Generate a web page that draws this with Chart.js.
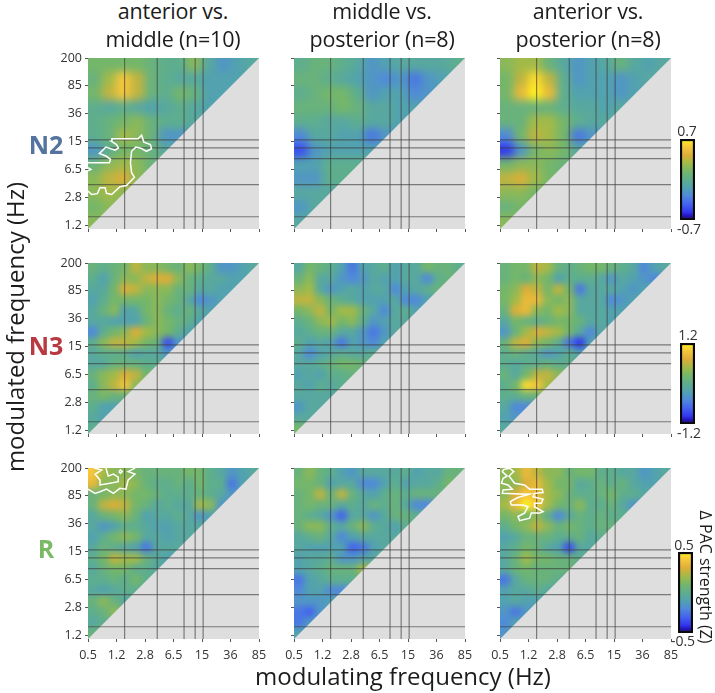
<!DOCTYPE html>
<html>
<head>
<meta charset="utf-8">
<title>PAC strength differences</title>
<script src="https://cdn.jsdelivr.net/npm/chart.js@4/dist/chart.umd.min.js"></script>
<style>
  html, body { margin: 0; padding: 0; background: #fff; }
  body { position: relative; width: 715px; height: 693px; overflow: hidden; font-family: "Open Sans", sans-serif; color: #1c1c1c; }
  canvas { position: absolute; }
  .txt { position: absolute; white-space: nowrap; transform: translate(-50%, -50%); line-height: 1; }
  .title { font-size: 21.5px; letter-spacing: -0.2px; }
  .axis { font-size: 24px; }
  .state { font-size: 25px; font-weight: 700; }
  .lim { font-size: 14px; color: #333; }
</style>
</head>
<body>

<script>
// ------------------------------------------------------------
// Data: each row runs from 200 Hz downwards, values are tenths
// of the colour limit of that row of panels
// ------------------------------------------------------------
const modulatingTicks = ['0.5', '1.2', '2.8', '6.5', '15', '36', '85'];
const modulatedTicks  = ['1.2', '2.8', '6.5', '15', '36', '85', '200'];

const colourLimits = [0.7, 1.2, 0.5];

// positions of the grey reference lines on the tick index scale
const verticalLines   = [1.284, 2.43, 3.37, 3.76, 4.04];
const horizontalLines = [3.06, 2.77, 2.39, 1.45, 0.30];

const n2AntMid = [
  [2,2,2,2,1,0,0,3,-1,-3,-2,-1],
  [1,4,8,5,1,0,-1,-1,-2,-2,-2],
  [2,5,8,5,1,0,2,1,-2,-2],
  [0,-1,0,-1,-2,-1,0,-1,-2],
  [0,1,2,3,1,0,0,-1],
  [0,1,4,3,1,-3,-3],
  [-3,0,2,2,1,-1],
  [1,3,4,3,1],
  [3,5,6,3],
  [3,4,3],
  [2,3],
  [3],
];
const n2MidPost = [
  [0,1,1,0,-1,-3,-2,-1,-1,-1,-1,0],
  [1,1,0,-1,-2,-3,-4,-3,-5,-3,-2],
  [0,1,2,2,0,-3,-2,-2,-4,-3],
  [1,1,1,2,1,-1,-1,-2,-2],
  [0,0,-1,-1,0,-1,-1,-2],
  [-4,-1,-1,-2,-2,-5,-3],
  [-7,-3,-2,-2,-2,-2],
  [-2,-2,0,0,0],
  [-3,-3,0,0],
  [-1,-1,-1],
  [-3,-1],
  [-1],
];
const n2AntPost = [
  [3,4,4,1,-1,-3,-2,-1,1,-1,-2,-1],
  [2,5,9,5,0,-3,-2,-2,-3,-2,-1],
  [2,7,10,7,0,-2,-2,-2,-3,-2],
  [1,1,1,1,0,-1,-1,-2,-1],
  [1,1,4,4,2,0,-1,-1],
  [-4,2,5,4,2,-5,-3],
  [-8,-3,2,3,2,-1],
  [2,3,3,2,1],
  [5,6,4,2],
  [3,3,2],
  [1,2],
  [3],
];
const n3AntMid = [
  [1,0,1,2,5,3,3,2,1,3,2,0,-3,-3,-2,-1],
  [0,-2,1,3,3,5,6,6,3,1,0,-1,-1,-2,-2],
  [-1,-1,2,6,5,3,3,3,1,1,-1,-1,-2,-2],
  [-2,0,2,2,2,2,3,2,1,-1,-4,-3,-2],
  [-1,1,3,-2,-1,2,3,1,0,1,-1,-2],
  [-1,-1,-2,-2,-2,1,3,2,1,0,-2],
  [-4,0,2,3,6,4,3,2,0,-2],
  [0,3,5,5,4,2,1,-7,-3],
  [-1,0,0,0,-2,-1,-1,-3],
  [-1,-1,1,1,1,0,0],
  [1,3,4,6,5,2],
  [0,3,5,8,3],
  [1,2,1,1],
  [0,-2,-2],
  [-1,-2],
  [0],
];
const n3MidPost = [
  [-1,2,1,0,-2,-5,-2,-1,0,-2,-1,-1,2,1,1,0],
  [1,3,-1,-1,-3,-4,-3,-1,-2,-2,-1,-1,-4,0,1],
  [3,4,-1,-3,-2,-1,-2,-1,-1,-4,-2,-1,0,1],
  [5,5,3,1,0,-1,-2,-2,-2,-1,-4,-4,-2],
  [2,3,5,2,4,4,1,-1,-4,-1,0,-2],
  [0,1,3,4,2,3,0,-3,-2,-1,-1],
  [-1,0,1,1,-1,-1,-3,-5,-3,-1],
  [0,-2,-1,-2,-5,-2,-3,-4,-2],
  [-1,-4,-2,-1,0,-1,-1,0],
  [-1,-1,0,1,2,2,1],
  [-2,-1,-2,0,0,1],
  [-1,-2,0,-1,0],
  [-1,-1,-1,-1],
  [-3,-1,-1],
  [-1,-1],
  [2],
];
const n3AntPost = [
  [1,2,2,5,4,1,0,1,2,2,1,0,-1,-4,-2,-1],
  [1,2,1,3,2,-2,0,0,0,-1,-3,-1,-2,-3,-4],
  [2,3,6,5,2,5,2,-5,-1,-1,-1,-2,-3,-2],
  [2,4,7,7,3,2,3,-1,-1,-1,-4,-3,-2],
  [1,6,7,3,2,4,3,-1,-1,-1,-2,-2],
  [-1,2,1,0,1,2,2,1,-1,-1,-2],
  [-3,1,4,6,5,4,2,-1,-4,-1],
  [1,5,6,3,2,0,-5,-8,-2],
  [0,1,0,-1,-3,-2,0,-2],
  [0,-1,0,0,1,0,0],
  [1,-1,2,5,5,3],
  [0,2,9,8,4],
  [0,0,1,1],
  [-1,-4,-4],
  [-2,-3],
  [-1],
];
const remAntMid = [
  [8,4,3,3,2,1,1,1,1,2,2,0,-1,-3,-2,-1],
  [7,3,3,4,3,1,0,0,1,0,2,0,0,-5,-2],
  [1,2,3,3,2,2,1,0,0,0,1,0,-1,-3],
  [1,5,6,5,2,1,-1,0,-1,-1,4,3,-3],
  [-1,1,2,3,1,-2,-1,-1,0,-1,-3,-2],
  [-1,-3,-2,0,0,-1,-2,-2,-1,-1,-1],
  [-2,0,2,3,2,-1,-1,-2,-1,-1],
  [-1,1,0,-1,-2,-5,-1,-1,-1],
  [0,2,5,4,4,1,-1,-2],
  [-1,1,2,2,0,0,-1],
  [0,0,1,0,2,0],
  [-1,-2,-1,0,0],
  [1,3,1,-1],
  [0,1,3],
  [-1,0],
  [1],
];
const remMidPost = [
  [1,3,1,0,-2,-3,-1,-1,-1,-1,0,-2,-1,-1,1,1],
  [2,2,1,-2,-1,-1,-4,-4,-2,0,-2,-1,-1,0,2],
  [1,2,5,1,5,1,-1,-2,0,1,0,1,1,1],
  [1,2,1,1,-1,0,-1,1,0,1,-1,-4,-4],
  [1,0,-1,-3,-6,-1,-1,-3,-1,1,1,0],
  [1,3,3,0,-1,1,3,0,-1,-2,0],
  [-1,0,1,-1,-4,-2,-1,-1,-1,-1],
  [-1,-2,-2,-2,-2,-6,-5,-2,-1],
  [-2,-1,-1,0,-3,-3,-2,-1],
  [-2,-1,0,1,1,1,4],
  [-5,-2,-1,0,0,0],
  [-4,-2,-2,-4,-4],
  [-3,-3,-3,-2],
  [-5,-6,-3],
  [-5,-3],
  [-2],
];
const remAntPost = [
  [3,4,7,5,3,3,1,2,2,0,0,-1,-1,-3,-2,-1],
  [3,3,6,7,4,2,2,-1,0,1,0,1,-1,-2,-2],
  [3,6,8,7,4,3,1,0,0,1,2,0,0,-1],
  [4,7,10,8,4,2,1,3,0,0,1,-1,-3],
  [2,3,2,3,0,-4,-1,1,0,1,0,0],
  [0,2,3,5,3,1,2,1,0,1,1],
  [-2,-1,1,1,1,0,0,1,-1,0],
  [-1,0,2,1,-1,-2,-7,-1,-1],
  [-1,1,4,2,2,1,1,0],
  [-1,1,2,1,1,1,1],
  [-5,-1,1,1,1,0],
  [-2,-1,-1,0,-1],
  [-2,-1,-2,-2],
  [-3,-5,-3],
  [-4,-2],
  [-3],
];

// significance outlines, on the tick index scale
const n2AntMidOutline = [[0,2.24],[.75,2.24],[.79,2.36],[.63,2.48],[.40,2.57],[.63,2.80],[.95,2.69],[1.07,2.77],[1.0,2.89],[.82,3.01],[.84,3.10],[1.76,3.10],[1.88,3.23],[1.96,2.98],[2.19,2.89],[2.23,2.74],[2.05,2.65],[1.88,2.75],[1.68,2.80],[1.53,2.65],[1.49,2.24],[1.53,1.88],[1.63,1.72],[1.35,1.42],[1.12,1.38],[.83,1.10],[.65,1.14],[.60,1.34],[.42,1.34],[.33,1.13],[.13,1.10],[0,1.22]];
const n2AntMidIsland  = [[0,2.06],[.1,2.0],[0,1.95]];
const remAntMidOuter  = [[0,5.24],[.25,5.09],[.42,5.15],[.65,5.24],[.89,5.09],[1.12,5.27],[1.33,5.24],[1.41,5.57],[1.65,5.78],[1.41,5.87],[1.65,6]];
const remAntMidInner  = [[.21,6],[.48,5.93],[.25,5.78],[.42,5.57],[.42,5.39],[.77,5.45],[1.06,5.51],[1.06,5.67],[.89,5.78],[.71,5.71],[.63,6]];
const remAntMidIsland = [[1.08,5.87],[1.14,5.93],[1.2,5.87],[1.14,5.81],[1.08,5.87]];
const remAntPostOutline = [[.13,5.95],[.34,5.99],[.48,5.87],[.32,5.71],[.51,5.45],[.86,5.39],[1.04,5.24],[1.48,5.24],[1.51,5.12],[1.21,5.09],[1.16,4.97],[1.51,4.88],[1.45,4.73],[1.21,4.73],[1.21,4.61],[1.51,4.43],[1.39,4.38],[1.10,4.38],[1.04,4.20],[.69,4.11],[.63,4.26],[.86,4.38],[.98,4.61],[.81,4.67],[.40,4.67],[.36,4.79],[.63,4.94],[1.04,5.06],[.69,5.07],[.08,5.09],[.11,5.21],[.43,5.24],[.28,5.39],[.05,5.45],[.11,5.63],[.25,5.71],[.08,5.87],[.13,5.95]];

// ------------------------------------------------------------
// Layout
// ------------------------------------------------------------
const PANEL   = 171;
const MARGIN  = { left: 40, top: 14, right: 14, bottom: 30 };
const colLeft = [88, 294, 500];
const rowTop  = [58, 263, 468];
const Y_MIN   = -0.14;
const Y_MAX   = 6;
const X_MAX   = 6;

const GREY = '#dedede';
const LINE = 'rgba(60,60,60,0.62)';

// ------------------------------------------------------------
// Colour map (colour bar from -1 to 1)
// ------------------------------------------------------------
const colourStops = [
  [-1.0, [20, 5, 90]],
  [-0.9, [35, 20, 190]],
  [-0.8, [50, 55, 240]],
  [-0.6, [68, 100, 238]],
  [-0.4, [80, 138, 218]],
  [-0.2, [82, 162, 175]],
  [ 0.0, [94, 174, 142]],
  [ 0.2, [116, 182, 106]],
  [ 0.4, [162, 186, 72]],
  [ 0.6, [220, 174, 56]],
  [ 0.8, [246, 198, 60]],
  [ 1.0, [255, 240, 30]],
];

function colourFor(v) {
  const t = Math.max(-1, Math.min(1, v));
  for (let i = 1; i < colourStops.length; i++) {
    const [t0, c0] = colourStops[i - 1];
    const [t1, c1] = colourStops[i];
    if (t <= t1) {
      const k = (t - t0) / (t1 - t0);
      const c = c0.map((a, j) => Math.round(a + (c1[j] - a) * k));
      return `rgb(${c[0]},${c[1]},${c[2]})`;
    }
  }
  return 'rgb(255,240,30)';
}

// ------------------------------------------------------------
// Build the heat cells, edge cells are repeated outside of the
// triangle so the blur does not fade at the border
// ------------------------------------------------------------
function buildCells(rows) {
  const grid = rows.length;
  const stepX = X_MAX / grid;
  const stepY = (Y_MAX - Y_MIN) / grid;
  const pad = [];
  const real = [];

  function cell(c, r, v) {
    return { x: (c + 0.5) * stepX, y: Y_MAX - (r + 0.5) * stepY, v: v };
  }

  rows.forEach((row, r) => {
    row.forEach((tenths, c) => {
      const v = tenths / 10;
      real.push(cell(c, r, v));
      if (c === 0) pad.push(cell(-1, r, v));
      if (r === 0) pad.push(cell(c, -1, v));
      if (c === row.length - 1) {
        pad.push(cell(c + 1, r, v));
        pad.push(cell(c, r + 1, v));
        pad.push(cell(c + 1, r + 1, v));
      }
    });
  });
  return pad.concat(real);
}

function lineDataset(points, colour, width, order) {
  return {
    type: 'scatter',
    data: points.map((p) => ({ x: p[0], y: p[1] })),
    showLine: true,
    pointRadius: 0,
    borderColor: colour,
    borderWidth: width,
    order: order,
  };
}

// ------------------------------------------------------------
// Smooths the cells once they are drawn, then paints the grey
// half of the panel
// ------------------------------------------------------------
const smoothPlugin = {
  id: 'smoothCells',
  afterDatasetDraw(chart, args, opts) {
    if (args.index !== 0) return;
    const ctx = chart.ctx;
    const a = chart.chartArea;
    const w = chart.width;
    const h = chart.height;

    ctx.save();
    ctx.beginPath();
    ctx.moveTo(a.left, a.bottom);
    ctx.lineTo(a.left, a.top);
    ctx.lineTo(a.right, a.top);
    ctx.closePath();
    ctx.clip();
    ctx.filter = `blur(${opts.blur}px)`;
    ctx.drawImage(chart.canvas, 0, 0, w, h);
    ctx.restore();

    ctx.save();
    ctx.fillStyle = GREY;
    ctx.beginPath();
    ctx.moveTo(a.left, a.bottom);
    ctx.lineTo(a.right, a.top);
    ctx.lineTo(a.right, a.bottom);
    ctx.closePath();
    ctx.fill();
    ctx.clearRect(0, 0, w, a.top);
    ctx.clearRect(0, a.bottom, w, h - a.bottom);
    ctx.clearRect(0, 0, a.left, h);
    ctx.clearRect(a.right, 0, w - a.right, h);
    ctx.restore();
  },
};

function addCanvas(left, top, width, height) {
  const canvas = document.createElement('canvas');
  canvas.width = width;
  canvas.height = height;
  canvas.style.left = left + 'px';
  canvas.style.top = top + 'px';
  canvas.style.width = width + 'px';
  canvas.style.height = height + 'px';
  document.body.appendChild(canvas);
  return canvas;
}

// ------------------------------------------------------------
// One heat panel
// ------------------------------------------------------------
function drawPanel(col, row, rows, outlines) {
  const canvas = addCanvas(
    colLeft[col] - MARGIN.left,
    rowTop[row] - MARGIN.top,
    MARGIN.left + PANEL + MARGIN.right,
    MARGIN.top + PANEL + MARGIN.bottom
  );

  const cells = buildCells(rows);
  const cellHalf = PANEL / rows.length / 2 + 0.5;
  const datasets = [{
    type: 'scatter',
    data: cells,
    pointStyle: 'rect',
    pointRadius: cellHalf / Math.SQRT1_2,
    pointBorderWidth: 0,
    pointBackgroundColor: cells.map((c) => colourFor(c.v)),
    clip: false,
    order: 10,
  }];

  verticalLines.forEach((x) => {
    datasets.push(lineDataset([[x, Y_MIN], [x, Y_MAX]], LINE, 1.2, 2));
  });
  horizontalLines.forEach((y) => {
    datasets.push(lineDataset([[0, y], [X_MAX, y]], LINE, 1.2, 2));
  });
  outlines.forEach((o) => {
    datasets.push(lineDataset(o, '#ffffff', 1.5, 1));
  });

  return new Chart(canvas, {
    type: 'scatter',
    data: { datasets },
    plugins: [smoothPlugin],
    options: {
      responsive: false,
      animation: false,
      events: [],
      layout: { padding: { top: MARGIN.top, right: MARGIN.right } },
      plugins: {
        legend: { display: false },
        tooltip: { enabled: false },
        smoothCells: { blur: rows.length > 12 ? 3.2 : 4.5 },
      },
      scales: {
        x: {
          type: 'linear',
          min: 0,
          max: X_MAX,
          afterFit: (s) => { s.height = MARGIN.bottom; },
          afterBuildTicks: (s) => { s.ticks = modulatingTicks.map((_, i) => ({ value: i })); },
          grid: { display: true, drawOnChartArea: false, drawTicks: true, tickLength: 3, color: '#555', z: 1 },
          border: { display: false, z: 1 },
          ticks: {
            z: 1,
            padding: 6,
            maxRotation: 0,
            autoSkip: false,
            color: '#333',
            font: { family: '"Open Sans"', size: 12.5 },
            callback: (v, i) => (row === 2 ? modulatingTicks[i] : ''),
          },
        },
        y: {
          type: 'linear',
          min: Y_MIN,
          max: Y_MAX,
          afterFit: (s) => { s.width = MARGIN.left; },
          afterBuildTicks: (s) => { s.ticks = modulatedTicks.map((_, i) => ({ value: i })); },
          grid: { display: true, drawOnChartArea: false, drawTicks: true, tickLength: 3, color: '#555', z: 1 },
          border: { display: false, z: 1 },
          ticks: {
            z: 1,
            padding: 3,
            autoSkip: false,
            color: '#333',
            font: { family: '"Open Sans"', size: 12.5 },
            callback: (v, i) => (col === 0 ? modulatedTicks[i] : ''),
          },
        },
      },
    },
  });
}

// ------------------------------------------------------------
// Colour bar: one floating bar with the colour map as gradient
// ------------------------------------------------------------
function drawColourBar(left, top, width, height, limit) {
  const canvas = addCanvas(left, top, width, height);
  new Chart(canvas, {
    type: 'bar',
    data: {
      labels: ['PAC'],
      datasets: [{
        data: [[-limit, limit]],
        barPercentage: 1,
        categoryPercentage: 1,
        borderColor: '#0a0a0a',
        borderWidth: 2.5,
        borderSkipped: false,
        backgroundColor: (c) => {
          const a = c.chart.chartArea;
          if (!a) return '#000';
          const g = c.chart.ctx.createLinearGradient(0, a.bottom, 0, a.top);
          colourStops.forEach((s) => g.addColorStop((s[0] + 1) / 2, colourFor(s[0])));
          return g;
        },
      }],
    },
    options: {
      responsive: false,
      animation: false,
      events: [],
      layout: { padding: 0 },
      plugins: { legend: { display: false }, tooltip: { enabled: false } },
      scales: {
        x: { display: false },
        y: { display: false, min: -limit, max: limit },
      },
    },
  });
}

// ------------------------------------------------------------
// Text
// ------------------------------------------------------------
function addText(text, x, y, cls, style) {
  const el = document.createElement('div');
  el.className = 'txt ' + cls;
  el.textContent = text;
  el.style.left = x + 'px';
  el.style.top = y + 'px';
  Object.assign(el.style, style || {});
  document.body.appendChild(el);
}

// ------------------------------------------------------------
// Init
// ------------------------------------------------------------
drawPanel(0, 0, n2AntMid, [n2AntMidOutline, n2AntMidIsland]);
drawPanel(1, 0, n2MidPost, []);
drawPanel(2, 0, n2AntPost, []);
drawPanel(0, 1, n3AntMid, []);
drawPanel(1, 1, n3MidPost, []);
drawPanel(2, 1, n3AntPost, []);
drawPanel(0, 2, remAntMid, [remAntMidOuter, remAntMidInner, remAntMidIsland]);
drawPanel(1, 2, remMidPost, []);
drawPanel(2, 2, remAntPost, [remAntPostOutline]);

drawColourBar(680, 139, 15, 81, colourLimits[0]);
drawColourBar(680, 343, 15, 81, colourLimits[1]);
drawColourBar(678, 552, 15, 81, colourLimits[2]);

addText('anterior vs.', 173, 11, 'title');
addText('middle (n=10)', 173, 39, 'title');
addText('middle vs.', 382, 11, 'title');
addText('posterior (n=8)', 382, 39, 'title');
addText('anterior vs.', 588, 11, 'title');
addText('posterior (n=8)', 588, 39, 'title');

addText('N2', 46, 144, 'state', { color: '#54739f' });
addText('N3', 46, 345, 'state', { color: '#b83a40' });
addText('R', 46, 548, 'state', { color: '#7cb964' });

addText('modulated frequency (Hz)', 15, 327, 'axis', { transform: 'translate(-50%, -50%) rotate(-90deg)' });
addText('modulating frequency (Hz)', 403, 676, 'axis');

addText(colourLimits[0].toFixed(1), 687, 131, 'lim');
addText('-' + colourLimits[0].toFixed(1), 689, 229, 'lim');
addText(colourLimits[1].toFixed(1), 688, 335, 'lim');
addText('-' + colourLimits[1].toFixed(1), 689, 433, 'lim');
addText(colourLimits[2].toFixed(1), 684, 545, 'lim');
addText('-' + colourLimits[2].toFixed(1), 683, 641, 'lim');
addText('Δ PAC strength (Z)', 706, 577, 'lim', { fontSize: '16px', transform: 'translate(-50%, -50%) rotate(90deg)', color: '#1c1c1c' });
</script>
</body>
</html>
